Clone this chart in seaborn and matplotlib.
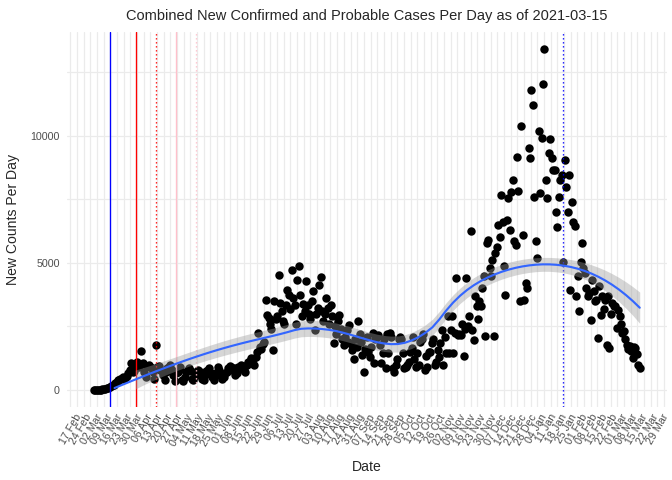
import numpy as np
import pandas as pd
import matplotlib
matplotlib.use("Agg")
import matplotlib.pyplot as plt
import seaborn as sns

# Daily new cases, one list per month
mar20 = [0, 2, 5, 8, 10, 15, 20,
         30, 40, 60, 90, 120, 160, 200,
         210, 260, 300, 380, 420, 450, 500,
         450, 500, 550, 650, 800, 1080, 700,
         750, 900, 1100]
apr20 = [900, 1000, 1520, 1080, 700, 500, 950,
         1000, 900, 850, 700, 450, 1780, 900,
         950, 800, 750, 600, 400, 700, 850,
         900, 1000, 800, 600, 350, 650, 700,
         800, 900]
may20 = [400, 350, 500, 700, 800, 850, 750,
         450, 400, 550, 700, 800, 750, 600,
         450, 400, 600, 750, 800, 850, 650,
         500, 400, 550, 700, 900, 800, 600,
         450, 500, 650]
jun20 = [700, 850, 950, 900, 800, 880, 600,
         650, 900, 880, 1000, 950, 800, 700,
         1000, 1100, 1130, 1270, 1200, 1000, 1300,
         1500, 2250, 1700, 1600, 1800, 1900, 3550,
         2960, 2840]
jul20 = [2600, 2400, 1590, 3480, 2800, 2900, 4530,
         3430, 3100, 2700, 2600, 3350, 3940, 3750,
         3200, 4730, 3600, 3350, 2600, 4330, 4860,
         3750, 2900, 3400, 3100, 4270, 3350, 3000,
         2800, 3500, 3880]
aug20 = [2370, 3000, 3220, 4140, 4460, 3100, 2700,
         3000, 3610, 3220, 2600, 3350, 2900, 1850,
         2500, 2200, 2700, 2960, 2400, 2000, 1780,
         2100, 2370, 1900, 2570, 1800, 1590, 1200,
         2000, 1700, 2700]
sep20 = [2200, 1900, 1390, 690, 1600, 2100, 1500,
         1300, 1700, 2250, 1080, 2000, 2100, 2180,
         1780, 1080, 1460, 2000, 880, 2200, 1460,
         2250, 2100, 880, 690, 1000, 1200, 2000,
         2100, 2000]
oct20 = [1460, 880, 900, 1000, 1100, 1500, 1670,
         2100, 1200, 900, 1460, 1000, 1900, 2000,
         2200, 800, 1330, 900, 1500, 1500, 1860,
         2000, 1000, 1100, 1590, 1300, 1860, 2370,
         1000, 2100, 1460]
nov20 = [2900, 1460, 2370, 2900, 1460, 2250, 4390,
         2180, 2200, 2180, 2600, 1330, 2400, 4390,
         2500, 2900, 6270, 2370, 1980, 3680, 3290,
         2800, 3500, 3290, 4000, 4500, 2110, 5780,
         5900, 4800]
dec20 = [4500, 5120, 2110, 5390, 5640, 6490, 6000,
         7650, 6620, 4860, 3750, 6690, 7540, 6290,
         7800, 8250, 5840, 5700, 9170, 7840, 3480,
         10370, 6100, 3550, 4210, 4010, 9500, 9110,
         11780, 11200, 7600]
jan21 = [5840, 5200, 10190, 7740, 9900, 12050, 13420,
         8250, 7540, 9310, 9860, 9110, 8640, 8640,
         7000, 6390, 7600, 8250, 8450, 5050, 9040,
         8000, 7000, 8450, 3940, 7400, 6620, 6430,
         3680, 4500, 3090]
feb21 = [5050, 5780, 4800, 4600, 4000, 3680, 3820,
         2760, 4330, 3900, 3500, 3550, 2050, 4070,
         2960, 3680, 3200, 3550, 1780, 3680, 1670,
         3000, 3430, 3300, 3290, 2450, 3160, 2900]
mar21 = [2600, 2250, 2310, 2000, 1780, 1600, 1720,
         1520, 1270, 1700, 1650, 1400, 1000, 880]

cases = (mar20 + apr20 + may20 + jun20 + jul20 + aug20 + sep20 +
         oct20 + nov20 + dec20 + jan21 + feb21 + mar21)
dates = pd.date_range("2020-03-01", periods=len(cases), freq="D")
df = pd.DataFrame({"Date": dates, "cases": cases})

# policy / event markers
event_dates = ["2020-03-12", "2020-03-30", "2020-04-13", "2020-04-27",
               "2020-05-11", "2021-01-20"]
event_colors = ["blue", "red", "red", "pink", "pink", "blue"]
event_styles = ["-", "-", ":", "-", ":", ":"]

week_ticks = pd.date_range("2020-02-17", "2021-03-29", freq="7D")
y_ticks = [0, 5000, 10000]
y_minor = [2500, 7500, 12500]


def loess_matrix(x, x_eval, span=0.75):
    n = len(x)
    q = int(np.floor(span * n))
    rows = []
    for x0 in x_eval:
        d = np.abs(x - x0)
        h = np.sort(d)[q - 1]
        u = np.clip(d / h, 0, 1)
        w = (1 - u ** 3) ** 3
        X = np.column_stack([np.ones(n), x - x0, (x - x0) ** 2])
        XtW = X.T * w
        rows.append(np.linalg.solve(XtW @ X, XtW)[0])
    return np.array(rows)


# loess smooth with 95% band, as geom_smooth does
t0 = df["Date"].iloc[0]
x_num = (df["Date"] - t0).dt.days.to_numpy().astype(float)
y_val = df["cases"].to_numpy().astype(float)
L = loess_matrix(x_num, x_num)
M = np.eye(len(x_num)) - L
A = M.T @ M
sigma = np.sqrt(np.sum((M @ y_val) ** 2) / np.trace(A))
x_grid = np.linspace(x_num.min(), x_num.max(), 80)
Lg = loess_matrix(x_num, x_grid)
fit = Lg @ y_val
se = sigma * np.sqrt(np.sum(Lg ** 2, axis=1))
lo = fit - 1.966 * se
hi = fit + 1.966 * se
grid_dates = t0 + pd.to_timedelta(x_grid, unit="D")

# y scale limited at 0: values below it are dropped, as in the original
line_y = np.where(fit >= 0, fit, np.nan)
band_ok = lo >= 0

sns.set_style("white")
plt.rcParams["font.family"] = ["Liberation Sans", "DejaVu Sans"]

fig, ax = plt.subplots(figsize=(7, 5), dpi=96)
fig.subplots_adjust(left=0.099, right=0.9926, bottom=0.152, top=0.934)

sns.scatterplot(data=df, x="Date", y="cases", color="black", s=40,
                linewidth=0, ax=ax, zorder=2)
for d, c, ls in zip(event_dates, event_colors, event_styles):
    ax.axvline(pd.Timestamp(d), color=c, linestyle=ls if ls == "-" else (0, (1, 2)),
               linewidth=1.0, zorder=3)
ax.fill_between(grid_dates, lo, hi, where=band_ok, color="#999999",
                alpha=0.4, linewidth=0, zorder=4)
ax.plot(grid_dates, line_y, color="#3366FF", linewidth=1.6, zorder=5)

# scales with ggplot-like 5% expansion
span = df["Date"].iloc[-1] - df["Date"].iloc[0]
xlo = df["Date"].iloc[0] - 0.05 * span
xhi = df["Date"].iloc[-1] + 0.05 * span
ax.set_xlim(xlo, xhi)
ymax = max(cases)
ax.set_ylim(-0.05 * ymax, 1.05 * ymax)

ax.set_xticks(week_ticks)
ax.set_xticklabels([d.strftime("%d %b") for d in week_ticks], rotation=60,
                   ha="right", rotation_mode="anchor", fontsize=8,
                   color="#4D4D4D")
grid_start = df["Date"].iloc[0] - pd.Timedelta(days=16.3)
grid_lines = pd.date_range(grid_start, xhi, freq=pd.Timedelta(hours=4.62 * 24))
ax.set_xticks(grid_lines, minor=True)
ax.set_yticks(y_ticks)
ax.set_yticklabels([str(v) for v in y_ticks], fontsize=8, color="#4D4D4D")
ax.set_yticks(y_minor, minor=True)
ax.tick_params(axis="both", which="both", length=0)
ax.tick_params(axis="x", pad=4)
ax.tick_params(axis="y", pad=5)

ax.grid(False)
ax.grid(axis="x", which="minor", color="#EBEBEB", linewidth=0.9, zorder=0)
ax.grid(axis="y", which="both", color="#EBEBEB", linewidth=0.9, zorder=0)
ax.set_axisbelow(True)
for s in ax.spines.values():
    s.set_visible(False)

ax.set_title("Combined New Confirmed and Probable Cases Per Day as of 2021-03-15",
             fontsize=11, pad=9)
ax.set_xlabel("Date", fontsize=10.5, labelpad=9)
ax.set_ylabel("New Counts Per Day", fontsize=10.5, labelpad=8)

fig.savefig("out.png", dpi=96)
